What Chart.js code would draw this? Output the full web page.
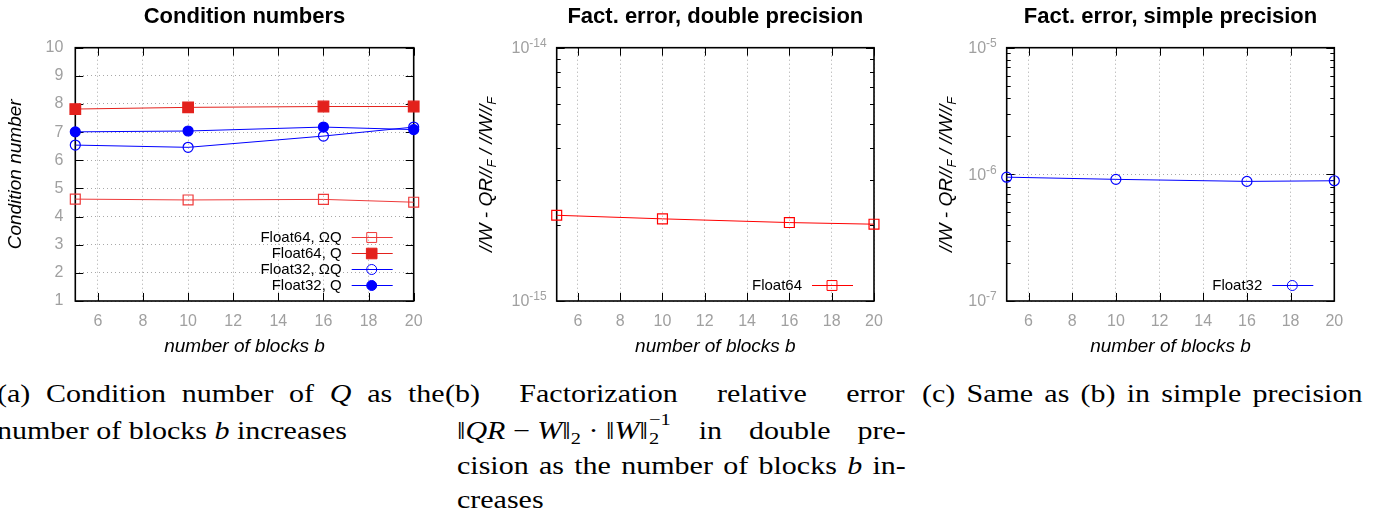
<!DOCTYPE html>
<html>
<head>
<meta charset="utf-8">
<script src="https://cdn.jsdelivr.net/npm/chart.js@4.4.1/dist/chart.umd.min.js"></script>
<style>
  html, body { margin: 0; padding: 0; background: #fff; }
  body { width: 1374px; height: 518px; position: relative; overflow: hidden; }
  .panel { position: absolute; top: 0; }
  .cl {
    position: absolute; height: 30px; line-height: 30px;
    font-family: "Liberation Serif", "Times New Roman", serif; font-size: 25px; color: #000;
    transform: scaleX(1.2); transform-origin: 0 0; white-space: nowrap;
  }
  .cl.j { white-space: normal; text-align: justify; text-align-last: justify; }
  .cl sub { font-size: 17px; vertical-align: -5px; line-height: 0; }
  .m { display: inline-block; }
  .ss { position: relative; display: inline-block; width: 20px; height: 0; }
  .ss span { position: absolute; left: 1px; font-size: 17px; line-height: 17px; }
</style>
</head>
<body>
<div class="panel" style="left:0;width:440px;height:359px"><canvas id="cond" width="440" height="359"></canvas></div>
<div class="panel" style="left:460px;width:440px;height:359px"><canvas id="err64" width="440" height="359"></canvas></div>
<div class="panel" style="left:920px;width:454px;height:359px"><canvas id="err32" width="454" height="359"></canvas></div>

<div class="cl j" style="left:-3px;top:379px;width:373px">(a) Condition number of <i>Q</i> as the</div>
<div class="cl" style="left:-3px;top:415.5px">number of blocks <i>b</i> increases</div>
<div class="cl j" style="left:445px;top:379px;width:383px">(b) Factorization relative error</div>
<div class="cl j" style="left:457px;top:415.5px;width:374px"><span class="m">‖<i>QR</i> − <i>W</i>‖<sub>2</sub> · ‖<i>W</i>‖<span class="ss"><span style="top:-28px">−1</span><span style="top:-9px">2</span></span></span> in double pre-</div>
<div class="cl j" style="left:457px;top:451px;width:374px">cision as the number of blocks <i>b</i> in-</div>
<div class="cl" style="left:457px;top:485px">creases</div>
<div class="cl j" style="left:922px;top:379px;width:367px">(c) Same as (b) in simple precision</div>

<script>
const blocks = [5, 10, 16, 20];
const blockTicks = [6, 8, 10, 12, 14, 16, 18, 20];
const condTicks = [1, 2, 3, 4, 5, 6, 7, 8, 9, 10];
const cond64OmegaQ = [4.62, 4.59, 4.61, 4.51];
const cond64Q = [7.82, 7.88, 7.91, 7.91];
const cond32OmegaQ = [6.54, 6.46, 6.86, 7.18];
const cond32Q = [7.01, 7.04, 7.18, 7.09];
const err64 = [2.18e-15, 2.11e-15, 2.04e-15, 2.01e-15];
const err32 = [9.5e-7, 9.13e-7, 8.8e-7, 8.9e-7];
const err64Decades = [-15, -14];
const err32Decades = [-7, -6, -5];

const SANS = '"Liberation Sans", Arial, sans-serif';
const GRID = '#a8a8a8';
const TICK = '#a0a0a0';
const normLabel = [['//W - QR//', false], ['F', true], [' / //W//', false], ['F', true]];

const pts = ys => blocks.map((b, i) => ({ x: b, y: ys[i] }));
const isDecade = v => { const l = Math.log10(v); return Math.abs(l - Math.round(l)) < 1e-6; };

// 1..9 x 10^d for each decade, plus the top power
function logTicks(decades) {
  const out = [];
  for (let i = 0; i < decades.length - 1; i++) {
    for (let m = 1; m < 10; m++) out.push(m * Math.pow(10, decades[i]));
  }
  out.push(Math.pow(10, decades[decades.length - 1]));
  return out;
}

// gnuplot look: frame, inward ticks, key inside, superscript tick labels
const gnuFrame = {
  id: 'gnuFrame',
  beforeDatasetsDraw(chart) {
    const { ctx, chartArea: a, scales: { x, y } } = chart;
    const log = y.type === 'logarithmic';
    ctx.save();
    ctx.strokeStyle = '#000';
    ctx.lineWidth = 1;
    ctx.beginPath();
    x.ticks.forEach(t => {
      const px = Math.round(x.getPixelForValue(t.value)) + 0.5;
      ctx.moveTo(px, a.bottom); ctx.lineTo(px, a.bottom - 8);
      ctx.moveTo(px, a.top); ctx.lineTo(px, a.top + 8);
    });
    y.ticks.forEach(t => {
      const len = !log || isDecade(t.value) ? 8 : 4;
      const py = Math.round(y.getPixelForValue(t.value)) + 0.5;
      ctx.moveTo(a.left, py); ctx.lineTo(a.left + len, py);
      ctx.moveTo(a.right, py); ctx.lineTo(a.right - len, py);
    });
    ctx.stroke();
    ctx.lineWidth = 1.6;
    ctx.strokeRect(a.left, a.top, a.right - a.left, a.bottom - a.top);
    ctx.restore();
  },
  afterDraw(chart, args, opts) {
    const { ctx, chartArea: a, scales: { y } } = chart;
    ctx.save();
    if (y.type === 'logarithmic') {
      ctx.fillStyle = TICK;
      ctx.textBaseline = 'middle';
      ctx.textAlign = 'left';
      y.ticks.filter(t => isDecade(t.value)).forEach(t => {
        const py = y.getPixelForValue(t.value);
        const exp = String(Math.round(Math.log10(t.value)));
        ctx.font = '12px ' + SANS;
        const we = ctx.measureText(exp).width;
        ctx.font = '16px ' + SANS;
        const wb = ctx.measureText('10').width;
        const right = a.left - 10;
        ctx.fillText('10', right - we - wb, py + 1);
        ctx.font = '12px ' + SANS;
        ctx.fillText(exp, right - we, py - 4);
      });
    }

    // key, bottom right inside the frame
    const ds = chart.data.datasets;
    ctx.font = '15px ' + SANS;
    ctx.textAlign = 'right';
    ctx.textBaseline = 'middle';
    ds.forEach((d, i) => {
      const yy = a.bottom - 16 - (ds.length - 1 - i) * 16;
      ctx.fillStyle = '#000';
      ctx.fillText(d.label, a.right - 72, yy + 1);
      ctx.strokeStyle = d.borderColor;
      ctx.lineWidth = 1;
      ctx.beginPath();
      ctx.moveTo(a.right - 62, yy + 0.5); ctx.lineTo(a.right - 21, yy + 0.5);
      ctx.stroke();
      const cx = a.right - 42;
      ctx.fillStyle = d.pointBackgroundColor;
      ctx.beginPath();
      if (d.pointStyle === 'rect') {
        const h = d.pointRadius * Math.SQRT1_2;
        ctx.rect(cx - h, yy - h + 0.5, 2 * h, 2 * h);
      } else {
        ctx.arc(cx, yy + 0.5, d.pointRadius, 0, Math.PI * 2);
      }
      ctx.fill();
      ctx.stroke();
    });

    // y title with subscripts
    if (opts && opts.yLabel) {
      const main = 'italic 19px ' + SANS, sub = 'italic 13px ' + SANS;
      let total = 0;
      opts.yLabel.forEach(([t, s]) => { ctx.font = s ? sub : main; total += ctx.measureText(t).width; });
      ctx.translate(y.left + 26.5, (a.top + a.bottom) / 2);
      ctx.rotate(-Math.PI / 2);
      ctx.fillStyle = '#000';
      ctx.textAlign = 'left';
      let px = -total / 2;
      opts.yLabel.forEach(([t, s]) => {
        ctx.font = s ? sub : main;
        ctx.fillText(t, px, s ? 6 : 0);
        px += ctx.measureText(t).width;
      });
    }
    ctx.restore();
  }
};

function xScale() {
  return {
    type: 'linear', min: 5, max: 20,
    afterBuildTicks: s => { s.ticks = blockTicks.map(v => ({ value: v })); },
    afterFit: s => { s.height = 58; },
    grid: { color: GRID, lineWidth: 1, drawTicks: false },
    border: { display: false, dash: [1, 3] },
    ticks: { color: TICK, font: { family: SANS, size: 16 }, padding: 11, maxRotation: 0, autoSkip: false },
    title: { display: true, text: 'number of blocks b', color: '#000',
             font: { family: SANS, size: 19, style: 'italic' }, padding: { top: 0, bottom: 1 } }
  };
}

function logYScale(decades, width) {
  const ticks = logTicks(decades);
  return {
    type: 'logarithmic',
    min: Math.pow(10, decades[0]), max: Math.pow(10, decades[decades.length - 1]),
    afterBuildTicks: s => { s.ticks = ticks.map(v => ({ value: v })); },
    afterFit: s => { s.width = width; },
    grid: { color: c => (c.tick && isDecade(c.tick.value) ? GRID : 'rgba(0,0,0,0)'), lineWidth: 1, drawTicks: false },
    border: { display: false, dash: [1, 3] },
    ticks: { display: false, autoSkip: false }
  };
}

function baseOptions(title, padRight, yScale, yLabel) {
  return {
    responsive: false,
    animation: false,
    layout: { padding: { left: 0, right: padRight, top: 0, bottom: 0 } },
    plugins: {
      legend: { display: false },
      tooltip: { enabled: false },
      title: { display: true, text: title, fullSize: false, color: '#000',
               font: { family: SANS, size: 22, weight: 'bold' }, padding: { top: 3.5, bottom: 17.8 } },
      gnuFrame: { yLabel: yLabel }
    },
    scales: { x: xScale(), y: yScale }
  };
}

function series(label, data, color, style, filled, radius, order) {
  return {
    label, data: pts(data), order,
    borderColor: color, borderWidth: 1, tension: 0, clip: false,
    pointStyle: style, pointRadius: radius, pointBorderWidth: 1.2,
    pointBorderColor: color,
    pointBackgroundColor: filled ? color : 'rgba(255,255,255,0)'
  };
}

new Chart(document.getElementById('cond'), {
  type: 'line',
  data: { datasets: [
    series('Float64, ΩQ', cond64OmegaQ, '#ee3a3a', 'rect', false, 7, 3),
    series('Float64, Q', cond64Q, '#e3211c', 'rect', true, 7.5, 2),
    series('Float32, ΩQ', cond32OmegaQ, '#0000ff', 'circle', false, 5, 1),
    series('Float32, Q', cond32Q, '#0000ff', 'circle', true, 5, 0)
  ] },
  options: baseOptions('Condition numbers', 26.3, {
    type: 'linear', min: 1, max: 10,
    afterBuildTicks: s => { s.ticks = condTicks.map(v => ({ value: v })); },
    afterFit: s => { s.width = 75.3; },
    grid: { color: GRID, lineWidth: 1, drawTicks: false },
    border: { display: false, dash: [1, 3] },
    ticks: { color: TICK, font: { family: SANS, size: 16 }, padding: 12, autoSkip: false },
    title: { display: true, text: 'Condition number', color: '#000',
             font: { family: SANS, size: 19, style: 'italic' }, padding: { top: 4 } }
  }, null),
  plugins: [gnuFrame]
});

new Chart(document.getElementById('err64'), {
  type: 'line',
  data: { datasets: [series('Float64', err64, '#ff0000', 'rect', false, 7, 0)] },
  options: baseOptions('Fact. error, double precision', 26, logYScale(err64Decades, 96.7), normLabel),
  plugins: [gnuFrame]
});

new Chart(document.getElementById('err32'), {
  type: 'line',
  data: { datasets: [series('Float32', err32, '#0000ff', 'circle', false, 5, 0)] },
  options: baseOptions('Fact. error, simple precision', 39.7, logYScale(err32Decades, 86.7), normLabel),
  plugins: [gnuFrame]
});
</script>
</body>
</html>
